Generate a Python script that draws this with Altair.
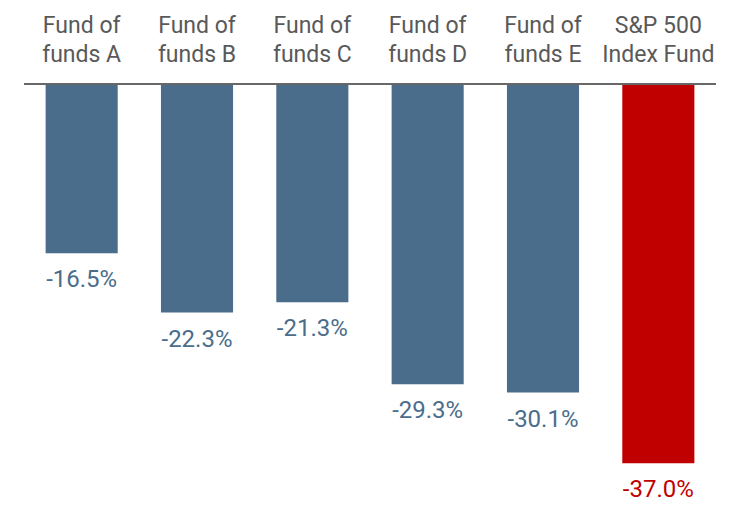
import altair as alt
import pandas as pd

categories = ["Fund of\nfunds A", "Fund of\nfunds B", "Fund of\nfunds C",
              "Fund of\nfunds D", "Fund of\nfunds E", "S&P 500\nIndex Fund"]
values = [-16.5, -22.3, -21.3, -29.3, -30.1, -37.0]
groups = ["fof", "fof", "fof", "fof", "fof", "index"]
labels = ["-16.5%", "-22.3%", "-21.3%", "-29.3%", "-30.1%", "-37.0%"]

df = pd.DataFrame({"cat": categories, "value": values, "group": groups, "label": labels})

FONT = "Roboto"
color_scale = alt.Scale(domain=["fof", "index"], range=["#4A6D8B", "#C00000"])
xenc = alt.X("cat:N", sort=categories, axis=None,
             scale=alt.Scale(paddingInner=0.375, paddingOuter=0.1875))
yscale = alt.Scale(domain=[-40, 0], nice=False)

base = alt.Chart(df)

bars = base.mark_bar().encode(
    x=xenc,
    y=alt.Y("value:Q", scale=yscale, axis=None),
    color=alt.Color("group:N", scale=color_scale, legend=None),
)

vals = base.mark_text(baseline="alphabetic", dy=34, fontSize=24, font=FONT).encode(
    x=xenc,
    y=alt.Y("value:Q", scale=yscale),
    text="label:N",
    color=alt.Color("group:N", scale=color_scale, legend=None),
)

cats = base.mark_text(baseline="alphabetic", fontSize=23, font=FONT, color="#595959",
                      lineBreak="\n", lineHeight=29).encode(
    x=xenc,
    y=alt.value(-51),
    text="cat:N",
)

rule = base.mark_rule(color="#666666", strokeWidth=1).encode(
    x=alt.value(0), x2=alt.value(692), y=alt.value(0)
)

chart = alt.layer(bars, vals, cats, rule).properties(
    width=692, height=410,
    autosize=alt.AutoSizeParams(type="none"),
    padding={"left": 16, "top": 76, "right": 0, "bottom": 20},
).configure_view(stroke=None)

chart.save("out.html", embed_options={"renderer": "svg", "actions": False})
